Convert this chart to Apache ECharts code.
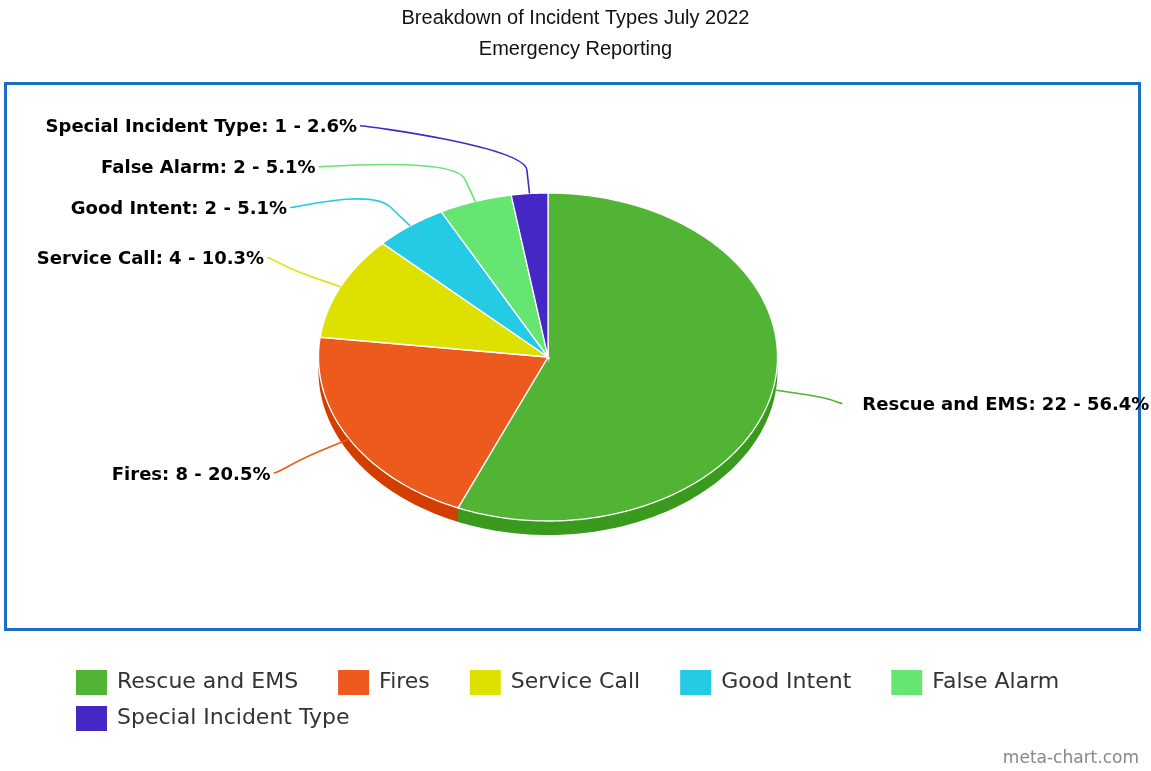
<!DOCTYPE html>
<html>
<head>
<meta charset="utf-8">
<script src="https://cdn.jsdelivr.net/npm/echarts@6/dist/echarts.min.js"></script>
<style>
html, body { margin: 0; padding: 0; background: #fff; }
#chart { width: 1151px; height: 771px; }
</style>
</head>
<body>
<div id="chart"></div>
<script>
let categories = ['Rescue and EMS', 'Fires', 'Service Call', 'Good Intent', 'False Alarm', 'Special Incident Type'];
let counts = [22, 8, 4, 2, 2, 1];
let colors = ['#52b434', '#ec5a1e', '#dee000', '#25cbe4', '#65e672', '#4527c5'];
let sideColors = ['#3a9a1e', '#d43d00', '#c2c400', '#0fb0c8', '#4cc95a', '#3216a8'];

// pie geometry: squashed ellipse with a little thickness for the 3d look
let cx = 548, cy = 357, rx = 229.5, ry = 164, depth = 14;
let labelRy = 232, labelR = 298, breakOff = 33, labelStep = 41;

let total = counts.reduce((a, b) => a + b, 0);
let slices = [];
let acc = 0;
for (let i = 0; i < counts.length; i++) {
    let a0 = acc / total * 2 * Math.PI;
    acc += counts[i];
    let a1 = acc / total * 2 * Math.PI;
    let mid = (a0 + a1) / 2;
    slices.push({ a0: a0, a1: a1, mid: mid, side: Math.sin(mid) >= 0 ? 1 : -1, ly: cy - labelRy * Math.cos(mid) });
}

// push labels apart on each side
[1, -1].forEach(function (side) {
    let list = slices.filter(s => s.side === side).sort((a, b) => a.ly - b.ly);
    for (let k = 1; k < list.length; k++) {
        if (list[k].ly < list[k - 1].ly + labelStep) list[k].ly = list[k - 1].ly + labelStep;
    }
});
slices.forEach(function (s) {
    let dy = s.ly - cy;
    s.lx = cx + s.side * Math.sqrt(Math.max(labelR * labelR - dy * dy, 0));
});

function pt(a, r1, r2, off) {
    return [cx + r1 * Math.sin(a), cy - r2 * Math.cos(a) + (off || 0)];
}

function arcPoints(a0, a1, off) {
    let pts = [];
    let n = Math.max(2, Math.ceil((a1 - a0) / 0.02));
    for (let k = 0; k <= n; k++) {
        pts.push(pt(a0 + (a1 - a0) * k / n, rx, ry, off));
    }
    return pts;
}

function sliceItem(i) {
    return function (params, api) {
        let s = slices[i];
        let children = [];
        // front wall
        let f0 = Math.max(s.a0, Math.PI / 2), f1 = Math.min(s.a1, 3 * Math.PI / 2);
        if (f1 > f0) {
            let upper = arcPoints(f0, f1, 0);
            let lower = arcPoints(f0, f1, depth).reverse();
            children.push({
                type: 'polygon',
                shape: { points: upper.concat(lower) },
                style: { fill: sideColors[i] },
                z2: 1
            });
        }
        // top face
        children.push({
            type: 'polygon',
            shape: { points: [[cx, cy]].concat(arcPoints(s.a0, s.a1, 0)) },
            style: { fill: colors[i], stroke: '#fff', lineWidth: 1.3 },
            z2: 2
        });
        // connector
        let touch = pt(s.mid, rx, ry, 0);
        let k = ry / rx;
        let brk = pt(s.mid, rx + breakOff, (rx + breakOff) * k, 0);
        let c1x = s.lx + (s.side > 0 ? -5 : 5);
        let d = 'M' + s.lx + ' ' + s.ly +
            ' C' + c1x + ' ' + s.ly + ' ' + (2 * brk[0] - touch[0]) + ' ' + (2 * brk[1] - touch[1]) +
            ' ' + brk[0] + ' ' + brk[1] + ' L' + touch[0] + ' ' + touch[1];
        children.push({
            type: 'path',
            shape: { pathData: d },
            style: { fill: null, stroke: colors[i], lineWidth: 1.6 },
            z2: 3
        });
        let pct = (counts[i] / total * 100).toFixed(1);
        children.push({
            type: 'text',
            style: {
                text: categories[i] + ': ' + counts[i] + ' - ' + pct + '%',
                x: s.side > 0 ? s.lx + 20 : s.lx - 3,
                y: s.ly + 2,
                align: s.side > 0 ? 'left' : 'right',
                verticalAlign: 'middle',
                fontFamily: 'DejaVu Sans',
                fontWeight: 'bold',
                fontSize: 18,
                fill: '#000'
            },
            z2: 4
        });
        return { type: 'group', children: children };
    };
}

let series = categories.map(function (name, i) {
    return {
        name: name,
        type: 'custom',
        coordinateSystem: 'none',
        itemStyle: { color: colors[i] },
        renderItem: sliceItem(i),
        data: [counts[i]]
    };
});

let legendText = { fontFamily: 'DejaVu Sans', fontSize: 22, color: '#333', padding: [0, 0, 0, 5] };

let option = {
    animation: false,
    title: {
        text: 'Breakdown of Incident Types July 2022',
        subtext: 'Emergency Reporting',
        left: 'center',
        top: 8,
        padding: 0,
        itemGap: 11,
        textStyle: { fontFamily: 'Liberation Sans', fontSize: 20, fontWeight: 'normal', color: '#111' },
        subtextStyle: { fontFamily: 'Liberation Sans', fontSize: 20, color: '#111' }
    },
    legend: [
        {
            data: categories.slice(0, 5),
            left: 76, top: 670, padding: 0,
            icon: 'rect', itemWidth: 31, itemHeight: 25, itemGap: 40,
            textStyle: legendText, selectedMode: false
        },
        {
            data: categories.slice(5),
            left: 76, top: 706, padding: 0,
            icon: 'rect', itemWidth: 31, itemHeight: 25, itemGap: 40,
            textStyle: legendText, selectedMode: false
        }
    ],
    graphic: [
        {
            type: 'rect',
            shape: { x: 5.5, y: 83.5, width: 1134, height: 546 },
            style: { fill: null, stroke: '#1b6ec2', lineWidth: 3 },
            z: -1
        },
        {
            type: 'text',
            right: 12, top: 750,
            style: { text: 'meta-chart.com', fontFamily: 'DejaVu Sans', fontSize: 17, fill: '#888' }
        }
    ],
    series: series
};

let chart = echarts.init(document.getElementById('chart'));
chart.setOption(option);
</script>
</body>
</html>
